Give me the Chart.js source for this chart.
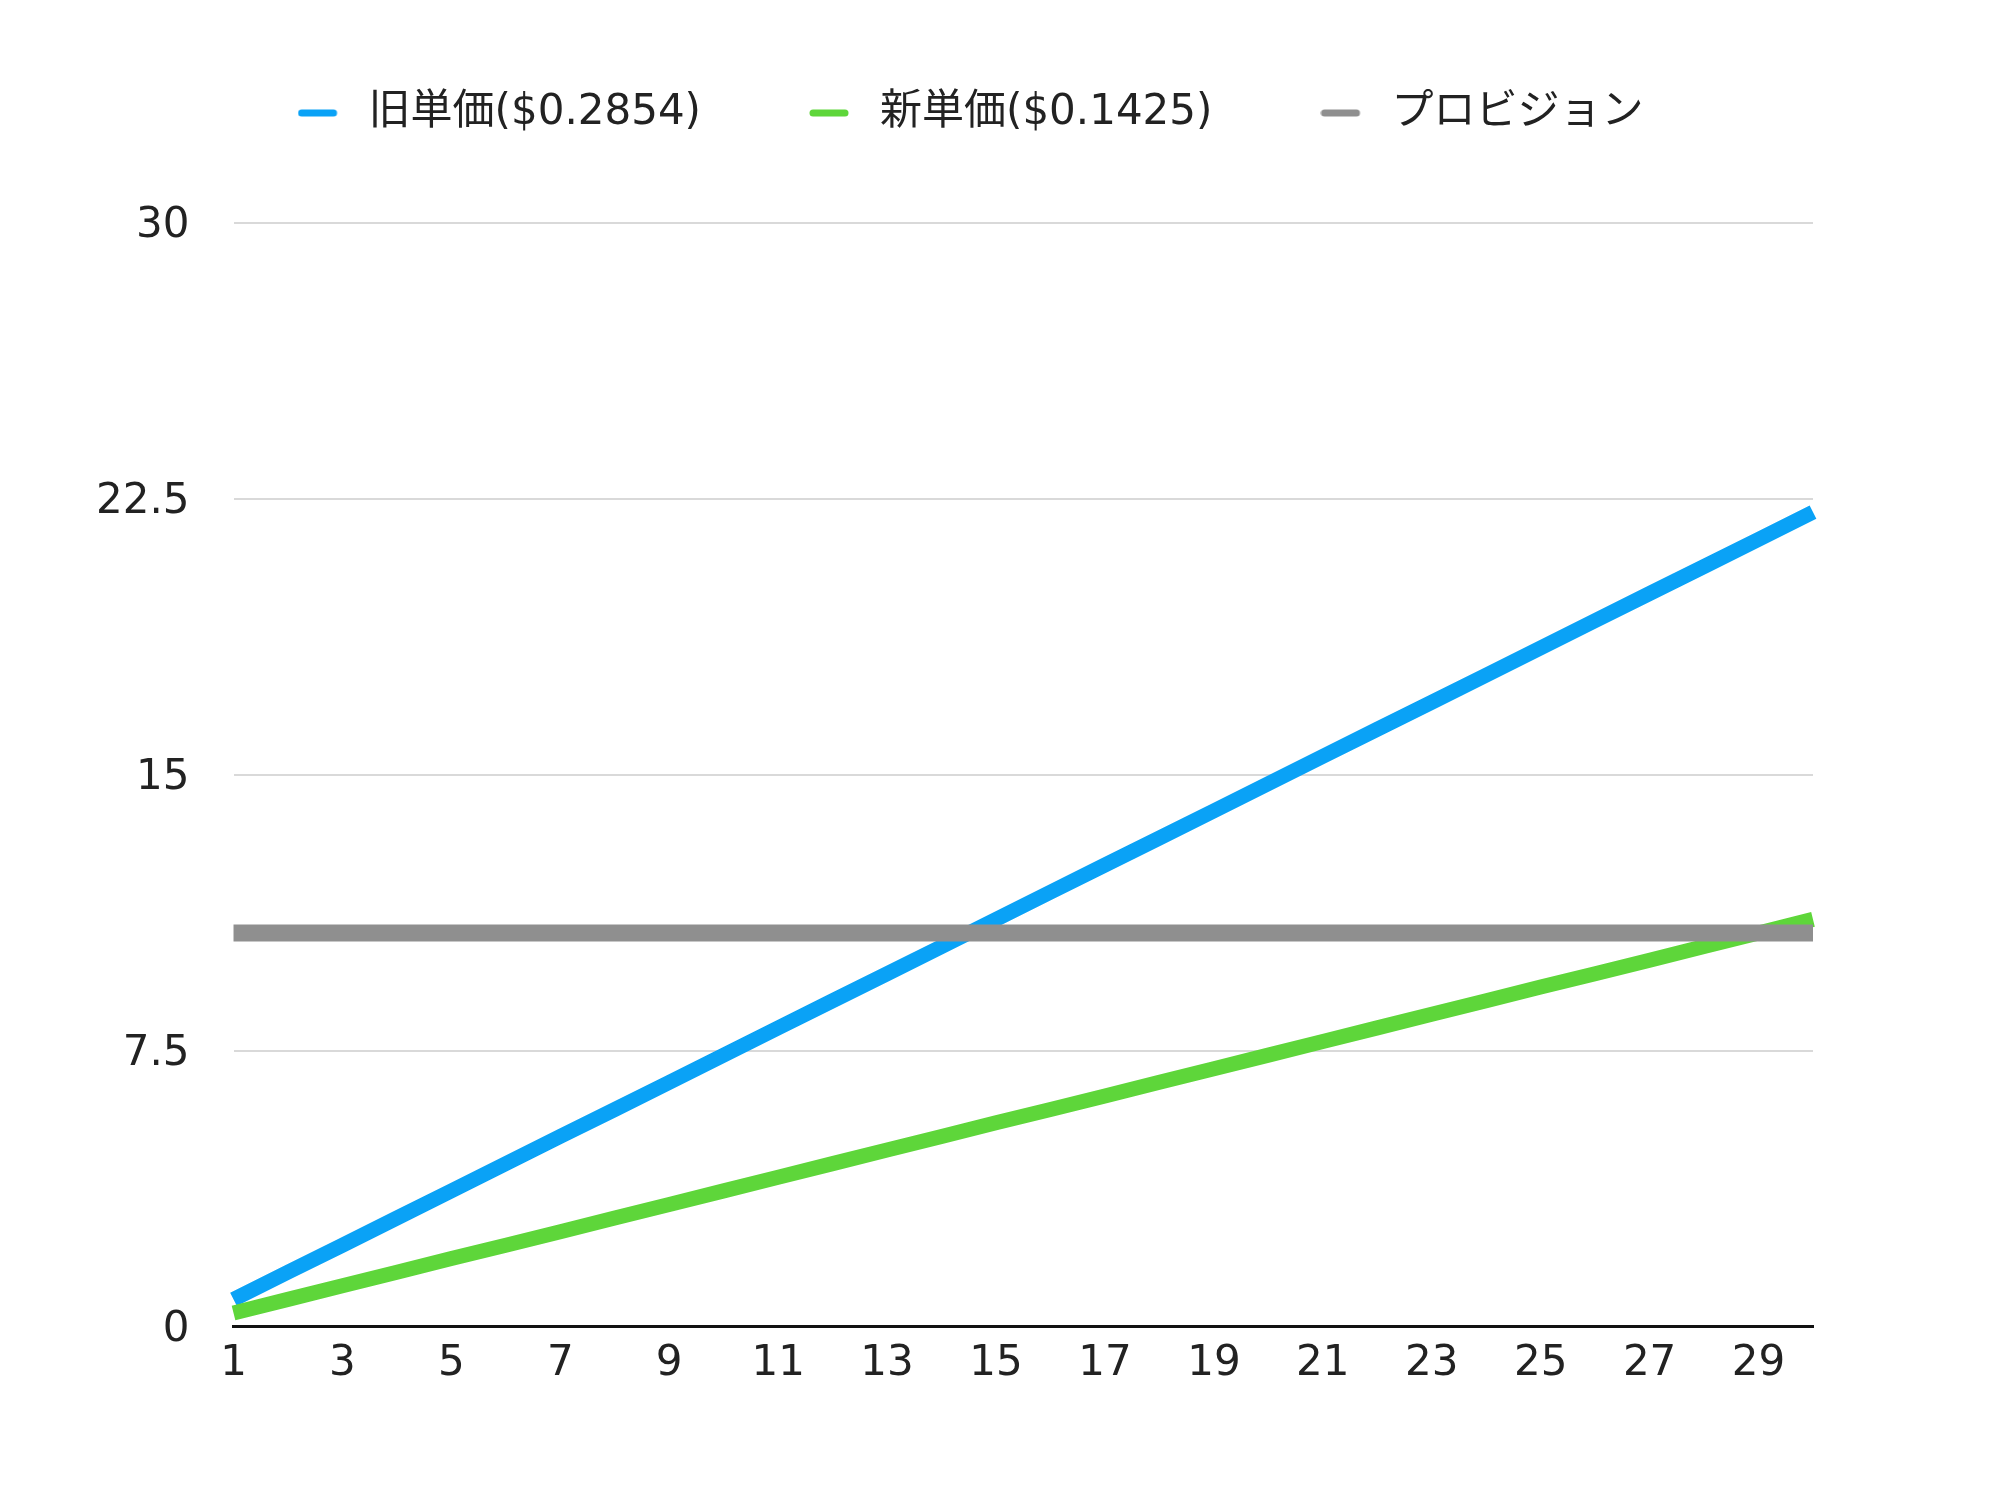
<!DOCTYPE html>
<html>
<head>
<meta charset="utf-8">
<script src="https://cdn.jsdelivr.net/npm/chart.js@4/dist/chart.umd.min.js"></script>
<style>
  body { margin: 0; background: #fff; }
  #wrap { width: 2000px; height: 1511px; }
</style>
</head>
<body>
<div id="wrap"><canvas id="chart1" width="2000" height="1511"></canvas></div>
<script>
const days = ['1', '2', '3', '4', '5', '6', '7', '8', '9', '10', '11', '12', '13', '14', '15',
  '16', '17', '18', '19', '20', '21', '22', '23', '24', '25', '26', '27', '28', '29', '30']

const oldPrice = [0.74, 1.48, 2.21, 2.95, 3.69, 4.43, 5.17, 5.90, 6.64, 7.38, 8.12, 8.86, 9.59, 10.33, 11.07,
  11.81, 12.55, 13.28, 14.02, 14.76, 15.50, 16.24, 16.97, 17.71, 18.45, 19.19, 19.93, 20.66, 21.40, 22.14]

const newPrice = [0.37, 0.74, 1.11, 1.48, 1.85, 2.21, 2.58, 2.95, 3.32, 3.69, 4.06, 4.43, 4.80, 5.17, 5.54,
  5.90, 6.27, 6.64, 7.01, 7.38, 7.75, 8.12, 8.49, 8.86, 9.23, 9.59, 9.96, 10.33, 10.70, 11.07]

const provision = [10.7, 10.7, 10.7, 10.7, 10.7, 10.7, 10.7, 10.7, 10.7, 10.7, 10.7, 10.7, 10.7, 10.7, 10.7,
  10.7, 10.7, 10.7, 10.7, 10.7, 10.7, 10.7, 10.7, 10.7, 10.7, 10.7, 10.7, 10.7, 10.7, 10.7]

const seriesNames = ['旧単価($0.2854)', '新単価($0.1425)', 'プロビジョン']
const yTicks = [0, 7.5, 15, 22.5, 30]

const colors = ['#0aa2f6', '#5ed63a', '#8f8f8f']
const font = '"DejaVu Sans", "Noto Sans CJK JP", sans-serif'

// small rounded dash for the legend, left part of a 50px wide canvas
const makeDash = color => {
  const c = document.createElement('canvas')
  c.width = 50
  c.height = 8
  const ctx = c.getContext('2d')
  ctx.strokeStyle = color
  ctx.lineWidth = 7
  ctx.lineCap = 'round'
  ctx.beginPath()
  ctx.moveTo(4, 4)
  ctx.lineTo(36, 4)
  ctx.stroke()
  return c
}

// push the plot down below the legend, and nudge the legend a bit right
const legendGap = {
  id: 'legendGap',
  beforeInit(chart) {
    const fit = chart.legend.fit
    chart.legend.fit = function () {
      fit.bind(chart.legend)()
      this.height += 79
    }
  },
  afterLayout(chart) {
    chart.legend.left += 38
    chart.legend.right += 38
  }
}

const data = {
  labels: days,
  datasets: [oldPrice, newPrice, provision].map((values, i) => ({
    label: seriesNames[i],
    data: values,
    borderColor: colors[i],
    backgroundColor: colors[i],
    borderWidth: i === 2 ? 17 : 15,
    pointRadius: 0,
    tension: 0,
    order: 2 - i
  }))
}

const options = {
  responsive: false,
  animation: false,
  layout: { padding: { left: 52, right: 187, top: -16, bottom: 110 } },
  plugins: {
    legend: {
      display: true,
      labels: {
        color: '#222',
        font: { family: font, size: 42 },
        usePointStyle: true,
        pointStyleWidth: 50,
        boxHeight: 8,
        padding: 108,
        sort: (a, b) => a.datasetIndex - b.datasetIndex,
        generateLabels: chart => Chart.defaults.plugins.legend.labels.generateLabels(chart)
          .map(item => ({ ...item, pointStyle: makeDash(colors[item.datasetIndex]), lineWidth: 0 }))
      }
    },
    tooltip: { enabled: false }
  },
  scales: {
    x: {
      grid: { display: false, drawTicks: false },
      border: { display: true, color: '#111', width: 3 },
      ticks: {
        autoSkip: false,
        maxRotation: 0,
        padding: 12,
        color: '#222',
        font: { family: font, size: 42 },
        callback: (v, i) => (i % 2 === 0 ? days[i] : '')
      }
    },
    y: {
      min: 0,
      max: 30,
      afterBuildTicks: axis => { axis.ticks = yTicks.map(v => ({ value: v })) },
      grid: { color: '#d9d9d9', lineWidth: 2, drawTicks: false },
      border: { display: false },
      ticks: {
        padding: 44,
        labelOffset: 3,
        color: '#222',
        font: { family: font, size: 42 }
      }
    }
  }
}

new Chart('chart1', {
  type: 'line',
  data,
  options,
  plugins: [legendGap]
})
</script>
</body>
</html>
